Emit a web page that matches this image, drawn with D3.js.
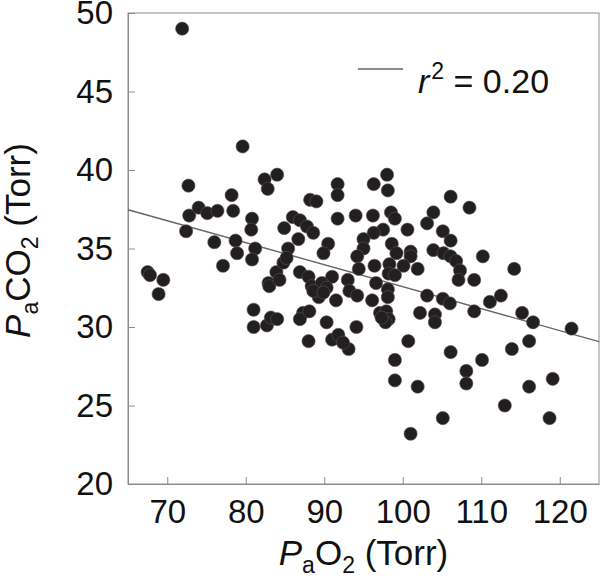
<!DOCTYPE html>
<html>
<head>
<meta charset="utf-8">
<script src="https://cdn.jsdelivr.net/npm/d3@7"></script>
<style>
  body { margin: 0; background: #fff; }
  svg text { font-family: "Liberation Sans", Arial, Helvetica, sans-serif; fill: #111; }
</style>
</head>
<body>
<div id="chart"></div>
<script>
// PaO2 (x) and PaCO2 (y)
const paO2 = [
  71.9, 79.6, 72.7, 72.8, 74.0, 75.1, 76.4, 72.4, 76.0, 78.2,
  78.4, 78.7, 80.8, 80.7, 81.2, 82.4, 82.8, 84.0, 84.9, 85.4,
  86.0, 86.7, 86.9, 87.8, 88.6, 88.2, 89.0, 90.5, 91.7, 91.7,
  91.7, 94.0, 96.3, 98.0, 98.1, 96.2, 98.5, 99.0, 100.6, 97.5,
  96.3, 95.0, 95.0, 98.6, 99.2, 101.0, 101.0, 94.2, 94.4, 96.4,
  98.3, 98.2, 99.0, 100.1, 101.9, 103.9, 103.1, 106.1, 108.5, 105.1,
  106.1, 103.9, 105.2, 106.1, 106.8, 107.3, 107.1, 109.1, 110.2, 114.2,
  91.0, 93.0, 93.2, 94.2, 96.6, 98.1, 98.1, 103.1, 105.1, 111.1,
  112.5, 96.1, 97.1, 97.9, 98.2, 97.8, 97.3, 94.1, 93.1, 102.2,
  104.1, 104.1, 106.0, 109.1, 115.2, 116.6, 121.5, 100.7, 99.0, 99.0,
  101.9, 101.0, 106.1, 105.1, 108.1, 108.1, 110.1, 113.9, 116.1, 113.0,
  116.1, 119.1, 118.7, 67.5, 67.8, 69.5, 68.9, 77.1, 78.9, 80.8,
  82.9, 83.0, 83.9, 84.3, 84.8, 85.2, 81.0, 81.0, 82.7, 83.2,
  84.0, 86.9, 88.0, 87.3, 86.9, 88.1, 88.0, 88.4, 89.1, 89.7,
  90.3, 89.3, 88.6, 89.9, 91.5, 90.3, 91.0, 91.8, 92.4, 89.9
];
const paCO2 = [
  49.0, 41.5, 39.0, 37.1, 37.6, 37.25, 37.4, 36.1, 35.4, 38.4,
  37.4, 35.5, 36.9, 36.2, 35.0, 39.4, 38.8, 39.7, 36.3, 35.0,
  37.0, 35.6, 36.8, 36.4, 36.0, 38.1, 38.0, 35.3, 39.1, 38.4,
  36.9, 37.1, 39.1, 39.7, 38.7, 37.1, 37.3, 36.9, 36.2, 36.2,
  36.0, 35.6, 35.0, 35.3, 34.7, 34.8, 34.5, 34.5, 33.7, 33.9,
  34.0, 33.4, 33.3, 33.9, 33.7, 37.3, 36.6, 38.3, 37.6, 36.1,
  35.5, 34.9, 34.7, 34.5, 34.2, 33.6, 33.0, 33.0, 34.5, 33.7,
  33.2, 33.0, 32.3, 32.0, 32.8, 32.4, 31.9, 32.0, 31.8, 31.6,
  32.0, 31.7, 30.9, 31.0, 30.5, 30.3, 30.6, 30.0, 28.6, 30.9,
  30.8, 30.3, 31.5, 31.0, 30.9, 30.3, 29.9, 29.1, 27.9, 26.6,
  26.2, 23.2, 28.4, 24.2, 27.2, 26.4, 27.9, 28.6, 29.1, 25.0,
  26.2, 26.7, 24.2, 33.5, 33.3, 33.0, 32.1, 33.9, 34.7, 34.3,
  32.8, 32.6, 33.5, 33.0, 34.1, 34.4, 31.1, 30.0, 30.1, 30.6,
  30.5, 33.5, 33.2, 30.9, 30.5, 31.0, 29.1, 32.6, 32.3, 32.8,
  32.5, 31.9, 32.3, 32.2, 31.7, 30.3, 29.2, 29.5, 29.0, 34.7
];
const xTicks = [70, 80, 90, 100, 110, 120];
const yTicks = [20, 25, 30, 35, 40, 45, 50];
const xDomain = [65, 125];
const yDomain = [20, 50];
// regression line (PaCO2 = intercept + slope * PaO2)
const fitSlope = -0.14;
const fitIntercept = 46.57;
const fitLabel = "0.20";

const W = 600, H = 583;
const margin = {top: 13, right: 1, bottom: 99, left: 128};
const width = W - margin.left - margin.right,
      height = H - margin.top - margin.bottom;

const svg = d3.select("#chart").append("svg")
    .attr("width", W)
    .attr("height", H);

const g = svg.append("g")
    .attr("transform", "translate(" + margin.left + "," + margin.top + ")");

const x = d3.scaleLinear().domain(xDomain).range([0, width]);
const y = d3.scaleLinear().domain(yDomain).range([height, 0]);

const axisColor = "#8c8c8c";

// frame
g.append("rect")
    .attr("x", 0).attr("y", 0)
    .attr("width", width).attr("height", height)
    .attr("fill", "none")
    .attr("stroke", axisColor)
    .attr("stroke-width", 1);

// axes with inward ticks
const xAxis = g.append("g")
    .attr("transform", "translate(0," + height + ")")
    .call(d3.axisBottom(x).tickValues(xTicks).tickSizeInner(-7).tickSizeOuter(0).tickPadding(16));
const yAxis = g.append("g")
    .call(d3.axisLeft(y).tickValues(yTicks).tickSizeInner(-7).tickSizeOuter(0).tickPadding(15));

[xAxis, yAxis].forEach(function(a) {
  a.select(".domain").attr("stroke", axisColor);
  a.selectAll(".tick line").attr("stroke", axisColor);
  a.selectAll(".tick text")
      .attr("font-size", "33px")
      .attr("font-family", "Liberation Sans, Arial, sans-serif")
      .attr("fill", "#111");
});

// regression line
g.append("line")
    .attr("x1", x(xDomain[0]))
    .attr("y1", y(fitIntercept + fitSlope * xDomain[0]))
    .attr("x2", x(xDomain[1]))
    .attr("y2", y(fitIntercept + fitSlope * xDomain[1]))
    .attr("stroke", "#666")
    .attr("stroke-width", 1.4);

// points
const pts = paO2.map(function(v, i) { return {x: v, y: paCO2[i]}; });
g.selectAll("circle.pt")
    .data(pts)
    .enter()
    .append("circle")
      .attr("class", "pt")
      .attr("cx", function(d) { return x(d.x); })
      .attr("cy", function(d) { return y(d.y); })
      .attr("r", 6.6)
      .attr("fill", "#231f20")
      .attr("stroke", "#555")
      .attr("stroke-width", 0.6);

// legend
g.append("line")
    .attr("x1", 230).attr("x2", 275)
    .attr("y1", 56).attr("y2", 56)
    .attr("stroke", "#666")
    .attr("stroke-width", 1.4);
const leg = g.append("text")
    .attr("x", 290).attr("y", 80)
    .attr("font-size", "34px");
leg.append("tspan").attr("font-style", "italic").text("r");
leg.append("tspan").attr("font-size", "23px").attr("dy", -14).attr("dx", 2).text("2");
leg.append("tspan").attr("dy", 14).text(" = " + fitLabel);

// x title
const xt = svg.append("text")
    .attr("x", margin.left + width / 2)
    .attr("y", 565)
    .attr("text-anchor", "middle")
    .attr("font-size", "35px");
xt.append("tspan").attr("font-style", "italic").text("P");
xt.append("tspan").attr("font-size", "23px").attr("dy", 8).text("a");
xt.append("tspan").attr("dy", -8).text("O");
xt.append("tspan").attr("font-size", "23px").attr("dy", 8).text("2");
xt.append("tspan").attr("dy", -8).text(" (Torr)");

// y title
const yt = svg.append("text")
    .attr("transform", "translate(30," + (margin.top + height / 2 - 8) + ") rotate(-90)")
    .attr("text-anchor", "middle")
    .attr("font-size", "35px");
yt.append("tspan").attr("font-style", "italic").text("P");
yt.append("tspan").attr("font-size", "23px").attr("dy", 8).text("a");
yt.append("tspan").attr("dy", -8).text("CO");
yt.append("tspan").attr("font-size", "23px").attr("dy", 8).text("2");
yt.append("tspan").attr("dy", -8).text(" (Torr)");
</script>
</body>
</html>
